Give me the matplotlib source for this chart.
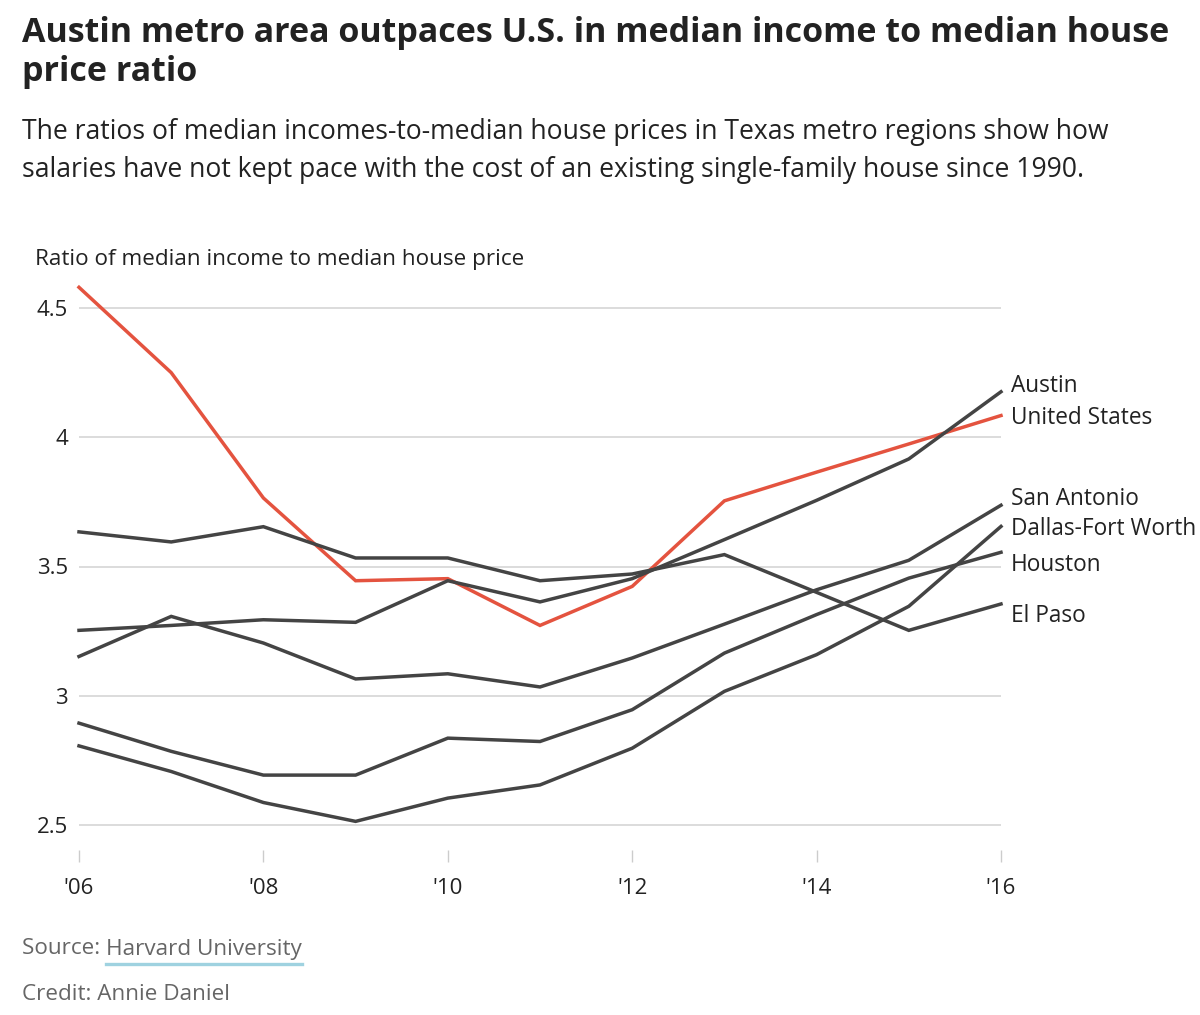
import matplotlib
matplotlib.use("Agg")
import matplotlib.pyplot as plt

years = [2006, 2007, 2008, 2009, 2010, 2011, 2012, 2013, 2014, 2015, 2016]
united_states = [4.58, 4.25, 3.765, 3.445, 3.453, 3.272, 3.423, 3.754, 3.865, 3.974, 4.084]
austin = [3.253, 3.272, 3.294, 3.284, 3.445, 3.363, 3.453, 3.604, 3.756, 3.916, 4.176]
el_paso = [3.634, 3.595, 3.654, 3.533, 3.533, 3.445, 3.471, 3.546, 3.40, 3.253, 3.355]
san_antonio = [3.152, 3.307, 3.204, 3.065, 3.085, 3.034, 3.146, 3.277, 3.41, 3.524, 3.737]
houston = [2.894, 2.785, 2.693, 2.693, 2.836, 2.823, 2.946, 3.165, 3.314, 3.455, 3.555]
dallas_fw = [2.806, 2.707, 2.587, 2.514, 2.604, 2.655, 2.797, 3.017, 3.159, 3.346, 3.655]

series_names = ["Austin", "United States", "San Antonio", "Dallas-Fort Worth", "Houston", "El Paso"]
series_values = [austin, united_states, san_antonio, dallas_fw, houston, el_paso]

y_ticks = [2.5, 3, 3.5, 4, 4.5]
y_tick_labels = ["2.5", "3", "3.5", "4", "4.5"]
x_ticks = [2006, 2008, 2010, 2012, 2014, 2016]
x_tick_labels = ["'06", "'08", "'10", "'12", "'14", "'16"]

RED = "#e4533f"
DARK = "#444444"
FONT = "Open Sans"

W, H = 1200, 1015
fig = plt.figure(figsize=(W / 100, H / 100), dpi=100)
plt.rcParams["font.family"] = [FONT, "DejaVu Sans"]

# axes geometry (pixels)
left_px, right_px = 79, 1001
y45_px, y25_px = 308, 825
bottom_px, top_px = 850, 280
per_unit = (y25_px - y45_px) / 2.0
ylo = 2.5 - (bottom_px - y25_px) / per_unit
yhi = 4.5 + (y45_px - top_px) / per_unit

ax = fig.add_axes([left_px / W, 1 - bottom_px / H, (right_px - left_px) / W, (bottom_px - top_px) / H])
ax.set_xlim(2006, 2016)
ax.set_ylim(ylo, yhi)
for s in ax.spines.values():
    s.set_visible(False)
ax.set_facecolor("none")

for yv in y_ticks:
    ax.axhline(yv, color="#d9d9d9", lw=1.3, zorder=1)

for name, vals in zip(series_names, series_values):
    color = RED if name == "United States" else DARK
    ax.plot(years, vals, color=color, lw=2.5, zorder=3 if name != "United States" else 2,
            solid_joinstyle="miter", clip_on=False)

ax.set_yticks(y_ticks)
ax.set_yticklabels(y_tick_labels, fontsize=16, color="#222222")
ax.tick_params(axis="y", length=0, pad=8)
ax.set_xticks(x_ticks)
ax.set_xticklabels(x_tick_labels, fontsize=16, color="#222222")
ax.tick_params(axis="x", length=8.5, width=1, color="#cccccc", pad=12, direction="out")

# end labels
label_y_px = {"Austin": 386, "United States": 418, "San Antonio": 499,
              "Dallas-Fort Worth": 529, "Houston": 565, "El Paso": 616}
for name in series_names:
    fig.text(1011 / W, 1 - label_y_px[name] / H, name, fontsize=16.3, color="#222222",
             va="center", ha="left")

# titles
fig.text(22 / W, 1 - 33 / H, "Austin metro area outpaces U.S. in median income to median house",
         fontsize=24.5, fontweight="bold", color="#222222", va="center", ha="left")
fig.text(22 / W, 1 - 72 / H, "price ratio",
         fontsize=24.5, fontweight="bold", color="#222222", va="center", ha="left")
fig.text(22 / W, 1 - 132 / H,
         "The ratios of median incomes-to-median house prices in Texas metro regions show how",
         fontsize=19.1, color="#222222", va="center", ha="left")
fig.text(22 / W, 1 - 170 / H,
         "salaries have not kept pace with the cost of an existing single-family house since 1990.",
         fontsize=19.1, color="#222222", va="center", ha="left")

fig.text(35 / W, 1 - 259 / H, "Ratio of median income to median house price",
         fontsize=16.2, color="#222222", va="center", ha="left")

# source / credit
src = fig.text(22 / W, 1 - 949 / H, "Source: ", fontsize=16.2, color="#666666", va="center", ha="left")
fig.canvas.draw()
bb = src.get_window_extent()
hx = bb.x1
hu = fig.text(hx / W, 1 - 949 / H, "Harvard University", fontsize=16.2, color="#666666",
              va="center", ha="left")
fig.canvas.draw()
bb2 = hu.get_window_extent()
fig.add_artist(plt.Line2D([bb2.x0 / W, bb2.x1 / W], [1 - 964 / H, 1 - 964 / H],
                          color="#9fd2e0", lw=2.4, transform=fig.transFigure))
fig.text(22 / W, 1 - 994 / H, "Credit: Annie Daniel", fontsize=16.2, color="#666666",
         va="center", ha="left")

fig.savefig("out.png", dpi=100, facecolor="white")
